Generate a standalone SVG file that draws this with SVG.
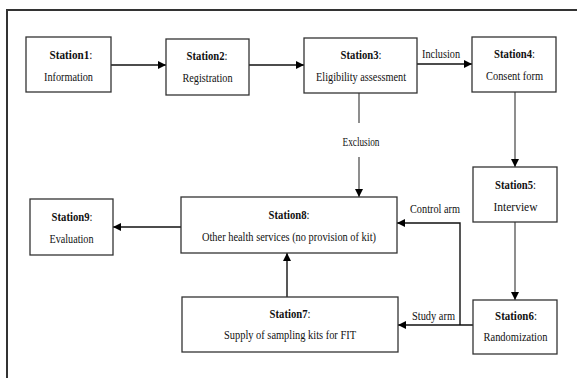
<svg xmlns="http://www.w3.org/2000/svg" width="577" height="378" viewBox="0 0 577 378">
<defs>
<style>
.box{fill:#fff;stroke:#333;stroke-width:1.3}
.t{font-family:"Liberation Serif","Times New Roman",serif;font-size:13px;fill:#111;text-anchor:middle}
.b{font-weight:bold}
.ln{fill:none;stroke:#111;stroke-width:1.4}
.lg{fill:none;stroke:#444;stroke-width:1.2}
.frame{fill:none;stroke:#333;stroke-width:2}
</style>
<marker id="ah" viewBox="0 0 10 10" refX="10" refY="5" markerWidth="8" markerHeight="8" markerUnits="userSpaceOnUse" orient="auto">
<path d="M0,0 L10,5 L0,10 z" fill="#000"/>
</marker>
</defs>
<rect width="577" height="378" fill="#fff"/>
<path class="frame" d="M577,10 H7 V378"/>
<g id="connectors">
<line class="ln" x1="111" y1="65" x2="166" y2="65" marker-end="url(#ah)"/>
<line class="ln" x1="249" y1="65" x2="304" y2="65" marker-end="url(#ah)"/>
<line class="ln" x1="417" y1="64" x2="472" y2="64" marker-end="url(#ah)"/>
<text class="t" x="441" y="58" textLength="38" lengthAdjust="spacingAndGlyphs">Inclusion</text>
<line class="lg" x1="515" y1="92" x2="515" y2="167" marker-end="url(#ah)"/>
<line class="lg" x1="359" y1="93" x2="359" y2="123"/>
<text class="t" x="361" y="146" textLength="37" lengthAdjust="spacingAndGlyphs">Exclusion</text>
<line class="lg" x1="359" y1="157" x2="359" y2="197" marker-end="url(#ah)"/>
<line class="lg" x1="515" y1="222" x2="515" y2="300" marker-end="url(#ah)"/>
<polyline class="ln" points="460,325 460,223 397,223" marker-end="url(#ah)"/>
<text class="t" x="435" y="213" textLength="50" lengthAdjust="spacingAndGlyphs">Control arm</text>
<line class="ln" x1="473" y1="325" x2="398" y2="325" marker-end="url(#ah)"/>
<text class="t" x="433.5" y="320" textLength="43" lengthAdjust="spacingAndGlyphs">Study arm</text>
<line class="ln" x1="287" y1="297" x2="287" y2="253" marker-end="url(#ah)"/>
<line class="ln" x1="181" y1="227" x2="113" y2="227" marker-end="url(#ah)"/>
</g>
<g id="station1">
<rect class="box" x="26" y="37" width="85" height="55"/>
<text class="t" transform="translate(71,59) scale(0.86,1)"><tspan class="b">Station1</tspan>:</text>
<text class="t" x="68.5" y="81" textLength="49" lengthAdjust="spacingAndGlyphs">Information</text>
</g>
<g id="station2">
<rect class="box" x="166" y="39" width="83" height="56"/>
<text class="t" transform="translate(207,60) scale(0.82,1)"><tspan class="b">Station2</tspan>:</text>
<text class="t" x="207.5" y="82" textLength="50" lengthAdjust="spacingAndGlyphs">Registration</text>
</g>
<g id="station3">
<rect class="box" x="304" y="38" width="113" height="55"/>
<text class="t" transform="translate(361,59) scale(0.82,1)"><tspan class="b">Station3</tspan>:</text>
<text class="t" x="361" y="81" textLength="90" lengthAdjust="spacingAndGlyphs">Eligibility assessment</text>
</g>
<g id="station4">
<rect class="box" x="472" y="37" width="84" height="55"/>
<text class="t" transform="translate(514.5,58) scale(0.82,1)"><tspan class="b">Station4</tspan>:</text>
<text class="t" x="514.5" y="80" textLength="57" lengthAdjust="spacingAndGlyphs">Consent form</text>
</g>
<g id="station5">
<rect class="box" x="473" y="167" width="84" height="55"/>
<text class="t" transform="translate(515.5,189) scale(0.82,1)"><tspan class="b">Station5</tspan>:</text>
<text class="t" x="515.5" y="211" textLength="44" lengthAdjust="spacingAndGlyphs">Interview</text>
</g>
<g id="station6">
<rect class="box" x="473" y="300" width="84" height="54"/>
<text class="t" transform="translate(516,320) scale(0.84,1)"><tspan class="b">Station6</tspan>:</text>
<text class="t" x="515.5" y="341" textLength="64" lengthAdjust="spacingAndGlyphs">Randomization</text>
</g>
<g id="station7">
<rect class="box" x="182" y="297" width="216" height="55"/>
<text class="t" transform="translate(290,318) scale(0.82,1)"><tspan class="b">Station7</tspan>:</text>
<text class="t" x="290" y="339" textLength="132" lengthAdjust="spacingAndGlyphs">Supply of sampling kits for FIT</text>
</g>
<g id="station8">
<rect class="box" x="181" y="197" width="216" height="56"/>
<text class="t" transform="translate(289,219) scale(0.82,1)"><tspan class="b">Station8</tspan>:</text>
<text class="t" x="289" y="241" textLength="174" lengthAdjust="spacingAndGlyphs">Other health services (no provision of kit)</text>
</g>
<g id="station9">
<rect class="box" x="30" y="199" width="83" height="56"/>
<text class="t" transform="translate(72,221) scale(0.82,1)"><tspan class="b">Station9</tspan>:</text>
<text class="t" x="71.5" y="243" textLength="44" lengthAdjust="spacingAndGlyphs">Evaluation</text>
</g>
</svg>
